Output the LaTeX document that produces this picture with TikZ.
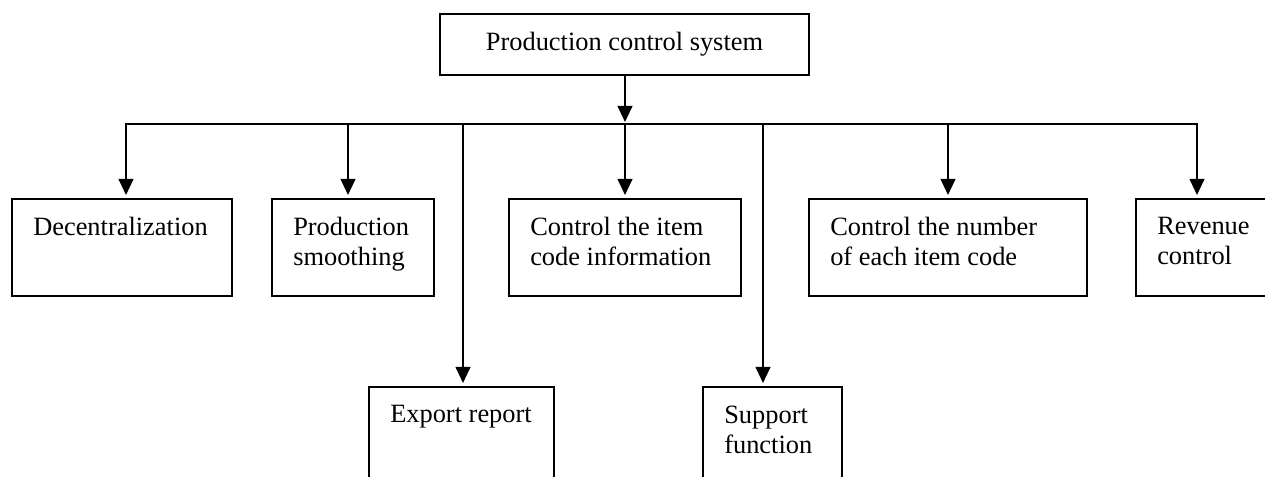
\documentclass[tikz,border=0pt]{standalone}
\usepackage{fontspec}
\setmainfont{Liberation Serif}
\usetikzlibrary{arrows.meta}

\tikzset{
  blk/.style={draw, line width=1.5pt, anchor=north west, inner sep=0pt, outer sep=0pt, minimum height=72.75pt},
  lbl/.style={anchor=north west, inner sep=0pt, align=left, font=\fontsize{19.8pt}{22.5pt}\selectfont},
  arr/.style={line width=1.5pt, -{Triangle[width=11pt,length=12pt]}, shorten >=3pt},
}

\begin{document}
\begin{tikzpicture}[x=0.75pt,y=0.75pt,yscale=-1,xscale=1]
\useasboundingbox (0,0) rectangle (1265,477);

\node[blk, anchor=center, minimum width=276.75pt, minimum height=45.75pt, font=\fontsize{19.8pt}{22.5pt}\selectfont] (pcs) at (624.5,44.5) {Production control system};

\node[blk, minimum width=165pt] (dec) at (12,199) {};
\node[blk, minimum width=121.5pt] (prod) at (272,199) {};
\node[blk, minimum width=174pt] (item) at (509,199) {};
\node[blk, minimum width=208.5pt] (num) at (809,199) {};
\node[blk, minimum width=135pt] (rev) at (1136,199) {};
\node[blk, minimum width=138.75pt, minimum height=90pt] (exp) at (369,387) {};
\node[blk, minimum width=104.25pt, minimum height=90pt] (sup) at (703,387) {};

\node[lbl] (decT) at (33,217) {Decentralization};
\node[lbl] (prodT) at (293,217) {Production\\smoothing};
\node[lbl] (itemT) at (530,216.5) {Control the item\\code information};
\node[lbl] (numT) at (830,216.5) {Control the number\\of each item code};
\node[lbl] (revT) at (1157,217) {Revenue\\control};
\node[lbl] (expT) at (390,404.5) {Export report};
\node[lbl] (supT) at (724,405.5) {Support\\function};

% bus
\coordinate (b1) at (126,124);
\coordinate (b2) at (348,124);
\coordinate (b3) at (463,124);
\coordinate (b4) at (625,124);
\coordinate (b5) at (763,124);
\coordinate (b6) at (948,124);
\coordinate (b7) at (1197,124);

\draw[arr, shorten >=1.5pt] (b4 |- pcs.south) -- (b4);
\draw[arr] (b4) -- (b1) -- (b1 |- dec.north);
\draw[arr] (b4) -- (b7) -- (b7 |- rev.north);
\draw[arr] (b2) -- (b2 |- prod.north);
\draw[arr] (b3) -- (b3 |- exp.north);
\draw[arr] (b4) -- (item.north);
\draw[arr] (b5) -- (b5 |- sup.north);
\draw[arr] (b6) -- (num.north);

\end{tikzpicture}
\end{document}
